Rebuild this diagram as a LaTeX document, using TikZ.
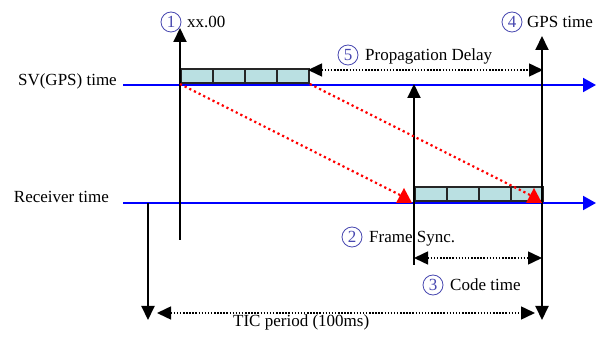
\documentclass[tikz,border=0pt]{standalone}
\usepackage{fontspec}
\setmainfont{Liberation Serif}
\usetikzlibrary{arrows.meta,positioning}
\definecolor{framefill}{RGB}{186,224,226}
\definecolor{badgeblue}{RGB}{72,72,176}
\tikzset{
  timeline/.style={blue, line width=2pt, -{Triangle[length=13pt,width=14pt]}},
  marker/.style={line width=2pt},
  span/.style={line width=1.5pt, dash pattern=on 1.5pt off 1.6pt, {Triangle[length=14pt,width=13pt]}-{Triangle[length=14pt,width=13pt]}},
  cell/.style={draw=black!85, fill=framefill, line width=1.8pt, minimum width=32pt, minimum height=14pt, inner sep=0pt},
  delay/.style={red, line width=2.2pt, dash pattern=on 2.2pt off 3pt},
  hit/.style={fill=red},
  numbadge/.style={circle, draw=badgeblue, text=badgeblue, line width=0.8pt, minimum size=20pt, inner sep=0pt, font=\fontsize{17}{17}\selectfont},
}
\begin{document}
\begin{tikzpicture}[x=1pt, y=-1pt, >={Triangle[length=14pt,width=13pt]},
    every node/.style={font=\fontsize{17}{19}\selectfont}]
  \useasboundingbox (0,0) rectangle (598,339);
  % time axes
  \coordinate (sv0) at (123,85);  \coordinate (sv1) at (596,85);
  \coordinate (rx0) at (123,203); \coordinate (rx1) at (596,203);
  \draw[timeline] (sv0) -- (sv1);
  \draw[timeline] (rx0) -- (rx1);
  \node[anchor=base east, inner sep=0pt] (svname) at (117,86) {SV(GPS) time};
  \node[anchor=base east, inner sep=0pt] (rxname) at (109,203) {Receiver time};
  % frames
  \foreach \i in {0,...,3} {
    \node[cell, anchor=south west] (sf\i) at ({180+32*\i},84) {};
    \node[cell, anchor=south west] (rf\i) at ({414+32*\i},202) {};
  }
  % vertical markers
  \coordinate (m1b) at (180,240); \coordinate (m1t) at (180,28);
  \coordinate (m2b) at (414,265); \coordinate (m2t) at (414,84);
  \coordinate (m4b) at (542,320); \coordinate (m4t) at (542,36);
  \coordinate (tic0) at (148,203); \coordinate (tic1) at (148,320);
  \draw[marker, ->] (m1b) -- (m1t);
  \draw[marker, ->] (m2b) -- (m2t);
  \draw[marker, <->] (m4b) -- (m4t);
  \draw[marker, ->] (tic0) -- (tic1);
  % propagation of the frame
  \coordinate (hit1) at (402,196); \coordinate (hit2) at (532,196);
  \draw[delay] (sf0.south west) -- (hit1);
  \draw[delay] (sf3.south east) -- (hit2);
  \fill[hit] (396,203) -- (404,188) -- (412,203) -- cycle;
  \fill[hit] (526,203) -- (534,188) -- (542,203) -- cycle;
  % spans
  \coordinate (pd0) at (308,70);  \coordinate (pd1) at (543,70);
  \coordinate (ct0) at (414,258); \coordinate (ct1) at (542,258);
  \coordinate (tp0) at (157,313); \coordinate (tp1) at (535,313);
  \draw[span] (pd0) -- (pd1);
  \draw[span] (ct0) -- (ct1);
  \draw[span] (tp0) -- (tp1);
  % labels
  \node[numbadge] (b1) at (171,22) {1};
  \node[anchor=base west, inner sep=0pt] (t1) at (187,28) {xx.00};
  \node[numbadge] (b2) at (352,237) {2};
  \node[anchor=base west, inner sep=0pt] (t2) at (369,243) {Frame Sync.};
  \node[numbadge] (b3) at (433,285) {3};
  \node[anchor=base west, inner sep=0pt] (t3) at (450,291) {Code time};
  \node[numbadge] (b4) at (512,22) {4};
  \node[anchor=base west, inner sep=0pt] (t4) at (527,28) {GPS time};
  \node[numbadge] (b5) at (348,55) {5};
  \node[anchor=base west, inner sep=0pt] (t5) at (365,61) {Propagation Delay};
  \node[anchor=base west, inner sep=0pt] (ttic) at (233,327) {TIC period (100ms)};
\end{tikzpicture}
\end{document}
